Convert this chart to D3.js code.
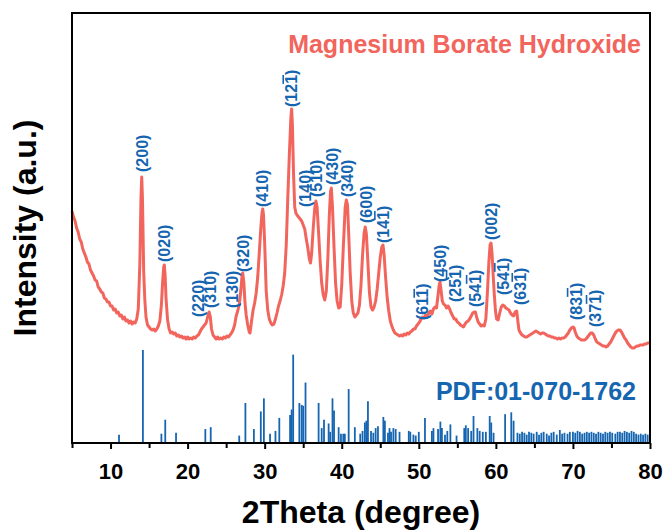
<!DOCTYPE html>
<html><head><meta charset="utf-8">
<script src="https://cdn.jsdelivr.net/npm/d3@7"></script>
<style>
body{margin:0;background:#fff}
svg{display:block}
text{font-family:"Liberation Sans",Arial,Helvetica,sans-serif;font-weight:bold}
</style>
</head><body>
<svg id="chart" width="663" height="530"></svg>
<script>
// ---- data (2θ in degrees, intensity in arbitrary units) ----
const xrdPattern = [[5.0,232],[5.2,226],[5.4,222],[5.6,215],[5.8,211],[6.0,204],[6.2,201],[6.4,194],[6.6,190],[6.8,186],[7.0,181],[7.2,179],[7.4,173],[7.6,170],[7.8,167],[8.0,163],[8.2,162],[8.4,156],[8.6,154],[8.8,151],[9.0,150],[9.2,145],[9.4,144],[9.6,141],[9.8,141],[10.0,137],[10.2,137],[10.4,133],[10.6,134],[10.8,130],[11.0,131],[11.2,127],[11.4,128],[11.6,124],[11.8,126],[12.0,122],[12.2,123],[12.4,120],[12.6,122],[12.8,119],[13.0,121],[13.2,120],[13.4,124],[13.6,134],[13.8,178],[13.95,245],[14.05,266],[14.15,242],[14.3,172],[14.45,143],[14.6,126],[14.8,118],[15.0,116],[15.2,114],[15.4,113],[15.6,114],[15.8,112],[16.0,114],[16.2,117],[16.4,122],[16.6,138],[16.75,160],[16.9,176],[16.98,178],[17.08,168],[17.2,145],[17.4,123],[17.6,114],[17.8,110],[18.0,111],[18.2,109],[18.4,110],[18.6,107],[18.8,108],[19.0,106],[19.2,107],[19.4,105],[19.6,106],[19.8,104],[20.0,106],[20.2,104],[20.4,105],[20.6,104],[20.8,106],[21.0,105],[21.2,107],[21.4,108],[21.6,111],[21.8,114],[22.0,116],[22.2,118],[22.4,120],[22.6,126],[22.8,131],[22.95,126],[23.1,114],[23.3,108],[23.5,106],[23.7,104],[23.9,106],[24.1,104],[24.3,105],[24.5,104],[24.7,106],[24.9,105],[25.1,107],[25.3,106],[25.5,108],[25.7,110],[25.9,113],[26.1,118],[26.3,127],[26.5,132],[26.7,138],[26.9,152],[27.05,166],[27.15,170],[27.3,160],[27.45,140],[27.6,128],[27.8,118],[28.0,111],[28.1,110],[28.3,122],[28.5,133],[28.7,140],[28.9,150],[29.1,166],[29.3,190],[29.5,215],[29.65,230],[29.75,234],[29.85,228],[30.0,200],[30.2,152],[30.4,133],[30.6,124],[30.8,120],[31.0,118],[31.2,119],[31.4,124],[31.6,130],[31.8,137],[32.0,142],[32.2,148],[32.4,157],[32.6,170],[32.8,198],[33.0,245],[33.2,288],[33.4,325],[33.5,334],[33.6,318],[33.75,268],[33.9,236],[34.05,230],[34.2,228],[34.4,226],[34.6,224],[34.8,222],[35.0,218],[35.2,214],[35.4,204],[35.6,195],[35.8,184],[35.95,180],[36.1,190],[36.3,215],[36.5,235],[36.65,242],[36.8,236],[37.0,210],[37.2,182],[37.4,160],[37.6,148],[37.8,143],[38.0,152],[38.2,185],[38.4,230],[38.55,252],[38.65,255],[38.8,236],[39.0,196],[39.2,160],[39.4,142],[39.6,135],[39.8,136],[40.0,158],[40.2,195],[40.45,236],[40.6,243],[40.75,238],[40.9,210],[41.1,170],[41.3,142],[41.5,130],[41.7,126],[41.9,128],[42.1,130],[42.3,138],[42.5,158],[42.7,188],[42.9,210],[43.05,216],[43.2,209],[43.4,180],[43.6,150],[43.8,136],[44.0,133],[44.2,136],[44.4,142],[44.6,154],[44.8,170],[45.0,186],[45.2,196],[45.35,198],[45.5,188],[45.7,165],[45.9,145],[46.1,132],[46.3,122],[46.5,117],[46.7,113],[46.9,110],[47.1,109],[47.3,108],[47.5,107],[47.7,108],[47.9,107],[48.1,109],[48.3,108],[48.5,110],[48.7,109],[48.9,111],[49.1,112],[49.3,114],[49.5,114],[49.7,117],[49.9,119],[50.1,121],[50.3,124],[50.5,126],[50.7,125],[50.9,128],[51.1,126],[51.3,130],[51.5,132],[51.7,129],[51.9,134],[52.1,136],[52.3,135],[52.5,148],[52.65,158],[52.75,161],[52.9,152],[53.05,142],[53.2,139],[53.4,138],[53.6,135],[53.8,137],[54.0,134],[54.2,130],[54.4,127],[54.6,124],[54.8,124],[55.0,121],[55.2,120],[55.4,118],[55.6,117],[55.8,116],[56.0,119],[56.2,121],[56.4,122],[56.6,124],[56.8,127],[57.0,130],[57.2,131],[57.35,131],[57.5,126],[57.7,121],[57.9,119],[58.1,117],[58.3,118],[58.5,117],[58.7,124],[58.9,150],[59.1,182],[59.25,198],[59.37,200],[59.5,190],[59.65,168],[59.8,148],[59.95,132],[60.1,124],[60.3,123],[60.5,130],[60.7,136],[60.9,138],[61.1,137],[61.3,135],[61.5,134],[61.7,133],[61.9,130],[62.1,128],[62.3,127],[62.5,131],[62.7,132],[62.85,122],[63.0,113],[63.2,110],[63.4,108],[63.6,107],[63.8,106],[64.0,106],[64.2,107],[64.4,108],[64.6,109],[64.8,110],[65.0,111],[65.2,112],[65.4,111],[65.6,110],[65.8,109],[66.0,110],[66.2,110],[66.4,109],[66.6,108],[66.8,107],[67.0,107],[67.2,106],[67.4,106],[67.6,105],[67.8,105],[68.0,104],[68.2,105],[68.4,104],[68.6,105],[68.8,105],[69.0,106],[69.2,108],[69.4,110],[69.6,113],[69.8,115],[70.0,116],[70.15,115],[70.3,111],[70.5,107],[70.7,105],[70.9,104],[71.1,103],[71.3,103],[71.5,103],[71.7,104],[71.9,106],[72.1,108],[72.3,110],[72.5,110],[72.7,108],[72.9,104],[73.1,101],[73.3,100],[73.5,99],[73.7,98],[73.9,97],[74.1,97],[74.3,96],[74.5,97],[74.7,99],[74.9,101],[75.1,104],[75.3,107],[75.5,110],[75.7,112],[75.9,113],[76.1,113],[76.3,111],[76.5,108],[76.7,105],[76.9,103],[77.1,100],[77.3,98],[77.5,96],[77.7,95],[77.9,95],[78.1,96],[78.3,97],[78.5,97],[78.7,98],[78.9,98],[79.1,98],[79.3,99],[79.5,99],[79.7,100],[79.9,100],[80.0,100]];

// reference pattern PDF 01-070-1762: [2θ, relative intensity]
const pdfSticks = [[11.1,9],[14.2,100],[16.6,10],[17.1,25],[18.5,11],[22.3,15],[23.0,17],[26.7,8],[27.5,43],[28.6,15],[29.5,34],[29.9,48],[30.7,10],[31.4,13],[31.9,27],[33.3,30],[33.5,36],[33.7,95],[34.5,43],[34.8,41],[35.0,40],[35.3,65],[37.0,43],[37.4,16],[37.7,25],[38.3,21],[38.5,12],[38.8,48],[39.0,35],[39.6,17],[39.9,10],[40.2,10],[40.4,10],[40.9,58],[41.7,17],[42.4,10],[42.7,13],[43.0,22],[43.2,24],[43.4,45],[43.8,13],[44.1,11],[44.4,16],[44.7,18],[45.4,28],[45.6,24],[46.0,11],[46.2,16],[46.4,12],[46.7,16],[47.0,15],[47.5,12],[48.7,13],[48.9,12],[49.3,9],[49.6,8],[50.0,12],[50.8,27],[51.7,13],[51.9,16],[52.5,15],[52.8,23],[53.0,16],[53.4,9],[53.7,13],[54.1,20],[54.9,8],[55.9,16],[56.1,19],[56.4,16],[56.8,13],[57.1,29],[57.6,16],[57.9,13],[58.3,12],[58.7,12],[59.2,29],[59.4,22],[59.7,11],[61.2,31],[62.0,33],[62.3,24],[62.8,11],[63.1,10],[63.4,12],[63.7,11],[64.0,9],[64.3,12],[64.6,11],[64.9,10],[65.3,12],[65.6,9],[65.9,11],[66.2,12],[66.6,10],[66.9,8],[67.2,11],[67.5,12],[67.9,9],[68.3,14],[68.6,10],[68.9,11],[69.3,10],[69.6,12],[70.0,12],[70.3,11],[70.6,13],[70.9,12],[71.2,10],[71.5,11],[71.8,12],[72.1,11],[72.4,12],[72.7,11],[73.0,10],[73.3,12],[73.6,11],[73.9,10],[74.2,12],[74.5,11],[74.8,12],[75.1,11],[75.5,10],[75.8,12],[76.1,12],[76.4,11],[76.7,13],[77.0,12],[77.3,11],[77.6,13],[77.9,12],[78.2,10],[78.5,9],[78.8,10],[79.1,9],[79.4,10],[79.7,9]];

// Miller-index annotations ("_" = bar over the next digit)
const hklLabels = ["(200)","(020)","(220)","(310)","(130)","(320)","(410)","(12_1)","(140)","(510)","(430)","(340)","(600)","(14_1)","(61_1)","(450)","(25_1)","(54_1)","(002)","(54_1)","(63_1)","(83_1)","(37_1)"];
const hklTheta  = [14.17,16.94,21.39,22.9,25.8,27.23,29.74,33.5,35.23,36.75,38.83,40.72,43.15,45.39,50.5,52.75,54.7,57.3,59.46,60.96,63.22,70.4,72.86];
const hklLevel  = [271,181,126,135,135,171,236,336,236,246,258,246,220,200,123,161,141,136,203,148,138,123,116];

const xMajorTicks = [10,20,30,40,50,60,70,80];
const xMinorTicks = [5,15,25,35,45,55,65,75];
const sampleName = "Magnesium Borate Hydroxide";
const referenceName = "PDF:01-070-1762";
const xTitle = "2Theta (degree)";
const yTitle = "Intensity (a.u.)";

// ---- drawing ----
const RED = "#f2655d", BLUE = "#1565b0";
const svg = d3.select("#chart");
const L = 72, R = 650, T = 13, B = 443;
const x = d3.scaleLinear().domain([5, 80]).range([L, R]);
const yCurve = d3.scaleLinear().domain([0, 430]).range([B, T]);
const yStick = d3.scaleLinear().domain([0, 100]).range([B, 350]);

// reference sticks
svg.append("g").selectAll("line").data(pdfSticks).join("line")
  .attr("x1", d => x(d[0])).attr("x2", d => x(d[0]))
  .attr("y1", yStick(0)).attr("y2", d => yStick(d[1]))
  .attr("stroke", BLUE).attr("stroke-width", 1.8);

// measured pattern
svg.append("path").datum(xrdPattern)
  .attr("fill", "none").attr("stroke", RED).attr("stroke-width", 3)
  .attr("stroke-linejoin", "round")
  .attr("d", d3.line().x(d => x(d[0])).y(d => yCurve(d[1])));

// hkl labels (one tspan per character; barred digit gets an overline)
const lab = svg.append("g").attr("fill", BLUE).attr("font-size", 16);
hklLabels.forEach((s, i) => {
  const t = lab.append("text")
    .attr("transform", `translate(${x(hklTheta[i])},${yCurve(hklLevel[i])}) rotate(-90)`)
    .attr("dy", "0.36em");
  let bar = false;
  for (const ch of s) {
    if (ch === "_") { bar = true; continue; }
    const ts = t.append("tspan").text(ch);
    if (bar) ts.style("text-decoration", "overline");
    bar = false;
  }
});

// axes
const minorAxis = d3.axisBottom(x).tickValues(xMinorTicks).tickSize(5).tickFormat("");
const majorAxis = d3.axisBottom(x).tickValues(xMajorTicks).tickSize(6).tickPadding(14).tickFormat(d3.format("d"));
const gm = svg.append("g").attr("transform", `translate(0,${B})`).call(minorAxis);
const gM = svg.append("g").attr("transform", `translate(0,${B})`).call(majorAxis);
[gm, gM].forEach(g => {
  g.select(".domain").remove();
  g.selectAll(".tick line").attr("stroke", "#000").attr("stroke-width", 2);
});
gM.selectAll(".tick text").attr("fill", "#000").attr("font-size", 22)
  .attr("font-family", '"Liberation Sans",Arial,sans-serif').attr("font-weight", "bold");

// legends
svg.append("text").attr("x", 641).attr("y", 53).attr("text-anchor", "end")
  .attr("font-size", 25).attr("fill", RED).text(sampleName);
svg.append("text").attr("x", 636).attr("y", 400).attr("text-anchor", "end")
  .attr("font-size", 25).attr("fill", BLUE).text(referenceName);

// axis titles
svg.append("text").attr("x", (L + R) / 2).attr("y", 523).attr("text-anchor", "middle")
  .attr("font-size", 32).attr("fill", "#000").text(xTitle);
svg.append("text").attr("transform", `translate(36,${(T + B) / 2}) rotate(-90)`)
  .attr("text-anchor", "middle").attr("font-size", 32).attr("fill", "#000").text(yTitle);

// frame drawn last, crisp
svg.append("rect").attr("x", L).attr("y", T).attr("width", R - L).attr("height", B - T)
  .attr("fill", "none").attr("stroke", "#000").attr("stroke-width", 2)
  .attr("shape-rendering", "crispEdges");
</script>
</body></html>
